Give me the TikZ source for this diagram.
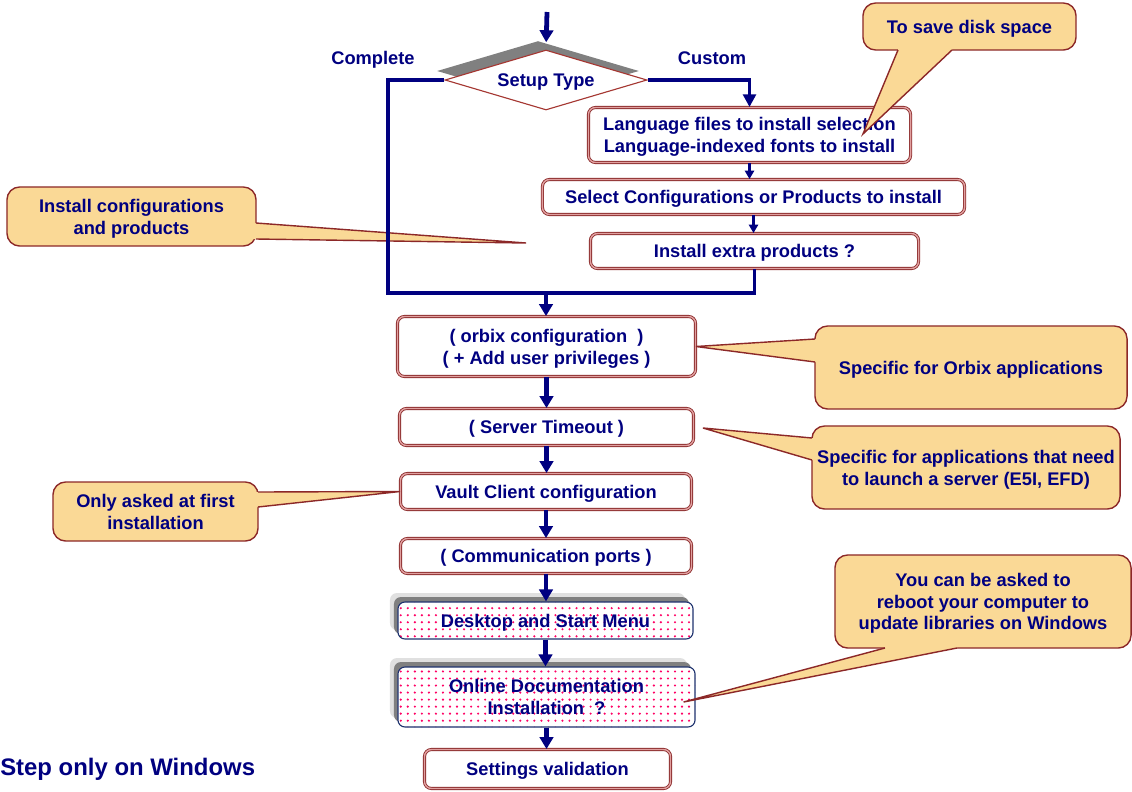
\documentclass[tikz,border=0pt]{standalone}
\usepackage{fontspec}
\setmainfont{Liberation Sans}
\usetikzlibrary{calc,shapes.geometric,arrows.meta,shadows,patterns.meta}

\definecolor{navy}{RGB}{0,0,128}
\definecolor{boxred}{RGB}{140,45,45}
\definecolor{boxpink}{RGB}{225,160,160}
\definecolor{diamondred}{RGB}{165,55,50}
\definecolor{notefill}{RGB}{250,217,150}
\definecolor{noteline}{RGB}{140,40,40}
\definecolor{dotpink}{RGB}{255,0,100}
\definecolor{winline}{RGB}{30,50,110}

\tikzset{
  stepbox/.style={draw=boxred, line width=0.6pt, double=boxpink, double distance=1pt,
    rounded corners=5pt, fill=white, align=center, inner sep=0pt},
  winbox/.style={general shadow={fill=black!12, shadow xshift=-0.2cm, shadow yshift=0.225cm},
    general shadow={fill=black!50, shadow xshift=-0.1cm, shadow yshift=0.125cm},
    preaction={fill=white}, draw=winline, line width=0.8pt, rounded corners=5pt,
    pattern={Dots[distance=5pt,radius=0.85pt]}, pattern color=dotpink,
    align=center, inner sep=0pt},
  decision/.style={diamond, aspect=3.3, draw=diamondred, line width=0.8pt, fill=white, inner sep=0pt,
    general shadow={fill=black!50, shadow xshift=-0.2cm, shadow yshift=0.225cm}},
  note/.style={draw=noteline, line width=1pt, fill=notefill, rounded corners=9pt,
    align=center, inner sep=0pt},
  flow/.style={draw=navy, line width=3pt, -{Triangle[width=9.5pt,length=8.5pt]}},
  thinflow/.style={draw=navy, line width=2pt, -{Triangle[width=6.5pt,length=6pt]}},
  branch/.style={draw=navy, line width=2.2pt},
}

% pointer of a callout: base point, tip, base point, shift into the bubble
\def\pointer(#1)(#2)(#3)(#4){%
  \fill[notefill] ($(#1)+(#4)$) -- (#1) -- (#2) -- (#3) -- ($(#3)+(#4)$) -- cycle;
  \draw[noteline, line width=1pt] (#1) -- (#2) -- (#3);}

\begin{document}
\begin{tikzpicture}[x=0.025cm, y=-0.025cm, text=navy, text depth=0pt,
    font=\bfseries\fontsize{13}{15.5}\selectfont]
  \useasboundingbox (0,0) rectangle (1132,791);

  %%%%% decision %%%%%
  \coordinate (start) at (547,12);
  \node[decision, minimum width=5.05cm, minimum height=1.5cm] (setup) at (546,80) {Setup Type};
  \node (complete) at (373,58) {Complete};
  \node (custom) at (712,58) {Custom};

  %%%%% custom branch %%%%%
  \node[stepbox, minimum width=8.05cm, minimum height=1.375cm] (lang) at (749.5,135)
    {Language files to install selection\\Language-indexed fonts to install};
  \node[stepbox, minimum width=10.55cm, minimum height=0.875cm] (select) at (753.5,197)
    {Select Configurations or Products to install};
  \node[stepbox, minimum width=8.2cm, minimum height=0.875cm] (extra) at (754.5,251)
    {Install extra products ?};

  %%%%% main column %%%%%
  \node[stepbox, minimum width=7.45cm, minimum height=1.5cm] (orbix) at (546.5,346.5)
    {( orbix configuration~~)\\( + Add user privileges )};
  \node[stepbox, minimum width=7.35cm, minimum height=0.925cm] (server) at (546.5,427)
    {( Server Timeout )};
  \node[stepbox, minimum width=7.275cm, minimum height=0.9cm] (vault) at (546,491.5)
    {Vault Client configuration};
  \node[stepbox, minimum width=7.275cm, minimum height=0.875cm] (comm) at (546,556)
    {( Communication ports )};
  \node[winbox, minimum width=7.375cm, minimum height=0.925cm] (desktop) at (545.5,620.5)
    {Desktop and Start Menu};
  \node[winbox, minimum width=7.425cm, minimum height=1.5cm] (docs) at (546.5,697)
    {Online Documentation\\Installation~~?};
  \node[stepbox, minimum width=6.15cm, minimum height=0.975cm] (settings) at (547.5,769)
    {Settings validation};

  \node[anchor=west, inner sep=0pt, font=\bfseries\fontsize{17}{20}\selectfont] (winonly)
    at (0,767) {Step only on Windows};

  %%%%% callouts %%%%%
  \node[note, minimum width=5.325cm, minimum height=1.175cm] (savenote) at (969.5,26.5)
    {To save disk space};
  \node[note, minimum width=6.225cm, minimum height=1.475cm] (installnote) at (131.5,216.5)
    {Install configurations\\and products};
  \node[note, minimum width=7.8cm, minimum height=2.075cm] (orbixnote) at (971,367.5)
    {Specific for Orbix applications};
  \node[note, minimum width=7.7cm, minimum height=2.075cm] (servernote) at (966,467.5)
    {Specific for applications that need\\to launch a server (E5I, EFD)};
  \node[note, minimum width=5.125cm, minimum height=1.475cm] (firstnote) at (155.5,511.5)
    {Only asked at first\\installation};
  \node[note, minimum width=7.4cm, minimum height=2.325cm] (rebootnote) at (983,601.5)
    {You can be asked to\\reboot your computer to\\update libraries on Windows};

  \coordinate (savetip) at ($(lang.east)+(-48,-1)$);
  \coordinate (installtip) at ($(extra.west)+(-64,-8)$);
  \coordinate (servertip) at ($(server.east)+(9,1)$);
  \coordinate (doctip) at ($(docs.east)+(-12,5)$);

  \pointer(898,50)(savetip)(952,50)(0,-3)
  \pointer(256,223)(installtip)(256,239)(-3,0)
  \pointer(815,339)(orbix.east)(815,362)(3,0)
  \pointer(812,438)(servertip)(812,460)(3,0)
  \pointer(258,492)(vault.west)(258,507)(-3,0)
  \pointer(885,648)(doctip)(957,648)(0,-3)

  %%%%% connectors %%%%%
  \coordinate (join) at (546,293);
  \coordinate (leftcorner) at (388,293);
  \draw[flow, line width=3.4pt, shorten >=0.18cm] (start) -- (setup.north);
  \draw[branch] (setup.west) -| (leftcorner) -- (join);
  \draw[branch, line width=2.8pt, -{Triangle[width=9pt,length=9pt]}] (setup.east) -| (lang.north);
  \draw[thinflow] (lang.south) -- (lang.south |- select.north);
  \draw[thinflow] (select.south) -- (select.south |- extra.north);
  \draw[branch] (extra.south) |- (join);
  \draw[flow] (join) -- (join |- orbix.north);
  \foreach \a/\b in {orbix/server, server/vault, vault/comm, comm/desktop, desktop/docs, docs/settings}
    \draw[flow] (\a.south) -- (\a.south |- \b.north);
\end{tikzpicture}
\end{document}
